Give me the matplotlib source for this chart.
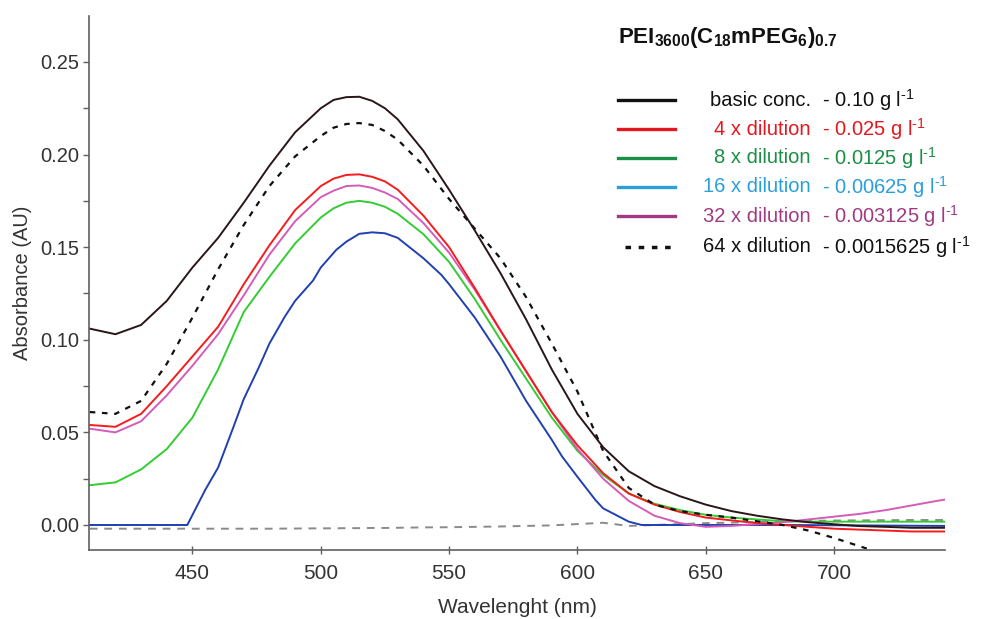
import numpy as np
import matplotlib
matplotlib.use('Agg')
import matplotlib.pyplot as plt
from matplotlib.ticker import MultipleLocator
from matplotlib.lines import Line2D

plt.rcParams['font.family'] = ['Liberation Sans', 'DejaVu Sans']
plt.rcParams['mathtext.fontset'] = 'custom'
plt.rcParams['mathtext.rm'] = 'Liberation Sans'
plt.rcParams['mathtext.bf'] = 'Liberation Sans:bold'

# comprimento de onda comum (nm)
wavelength = [410, 420, 430, 440, 450, 460, 470, 480, 490, 500, 505, 510, 515, 520, 525,
              530, 540, 550, 560, 570, 580, 590, 600, 610, 620, 630, 640, 650, 660, 670,
              680, 690, 700, 710, 720, 730, 740, 743]

basic = [0.106, 0.103, 0.108, 0.121, 0.139, 0.155, 0.174, 0.194, 0.212, 0.225, 0.2295,
         0.231, 0.2312, 0.229, 0.225, 0.219, 0.202, 0.181, 0.159, 0.136, 0.111, 0.084,
         0.060, 0.042, 0.029, 0.021, 0.0155, 0.011, 0.0075, 0.005, 0.003, 0.0015, 0.0004,
         -0.0006, -0.001, -0.0015, -0.0015, -0.0015]

dil64 = [0.061, 0.060, 0.067, 0.087, 0.112, 0.138, 0.162, 0.183, 0.199, 0.210, 0.2145,
         0.2165, 0.217, 0.216, 0.2127, 0.208, 0.194, 0.176, 0.160, 0.144, 0.123, 0.098,
         0.072, 0.040, 0.020, 0.011, 0.0075, 0.0055, 0.004, 0.002, 0.0, -0.003, -0.007,
         -0.0115, -0.016, np.nan, np.nan, np.nan]

dil4 = [0.054, 0.053, 0.060, 0.075, 0.091, 0.107, 0.130, 0.151, 0.170, 0.183, 0.187,
        0.189, 0.1893, 0.188, 0.1855, 0.181, 0.167, 0.150, 0.128, 0.105, 0.083, 0.061,
        0.043, 0.028, 0.017, 0.011, 0.007, 0.004, 0.0025, 0.001, 0.0, -0.001, -0.002,
        -0.0025, -0.003, -0.0035, -0.0035, -0.0035]

dil32 = [0.052, 0.050, 0.056, 0.070, 0.086, 0.103, 0.124, 0.146, 0.164, 0.177, 0.1805,
         0.183, 0.1833, 0.182, 0.1795, 0.176, 0.163, 0.147, 0.127, 0.105, 0.083, 0.061,
         0.041, 0.025, 0.013, 0.005, 0.001, -0.001, -0.0005, 0.0005, 0.0015, 0.003,
         0.0045, 0.006, 0.008, 0.0105, 0.013, 0.0137]

dil8 = [0.0215, 0.023, 0.030, 0.041, 0.058, 0.084, 0.115, 0.134, 0.152, 0.166, 0.171,
        0.174, 0.175, 0.174, 0.1718, 0.168, 0.157, 0.142, 0.122, 0.100, 0.079, 0.058,
        0.040, 0.027, 0.017, 0.0115, 0.008, 0.0055, 0.004, 0.003, 0.002, 0.0018, 0.0018,
        0.0018, 0.0018, 0.0018, 0.0018, 0.0018]

blank = [-0.002, -0.002, -0.002, -0.002, -0.002, -0.002, -0.002, -0.002, -0.0019,
         -0.0018, -0.0018, -0.0017, -0.0017, -0.0016, -0.0016, -0.0015, -0.0013,
         -0.0012, -0.001, -0.0008, -0.0005, -0.0002, 0.0005, 0.0012, -0.0005, 0.0,
         0.0005, 0.001, 0.0013, 0.0016, 0.002, 0.0022, 0.0024, 0.0025, 0.0026, 0.0027,
         0.0027, 0.0027]

# 16x tem o joelho em 448 nm
wl_16x = [410, 448, 455, 460, 466, 470, 476, 480, 486, 490, 497, 500, 506, 510, 515,
          520, 525, 530, 540, 547, 550, 560, 570, 580, 590, 594, 600, 607, 610, 620,
          625, 640, 680, 720, 743]
dil16 = [0.0, 0.0, 0.019, 0.031, 0.053, 0.068, 0.0855, 0.098, 0.1125, 0.121, 0.132,
         0.139, 0.1485, 0.153, 0.1572, 0.158, 0.1575, 0.155, 0.144, 0.135, 0.130, 0.112,
         0.091, 0.067, 0.046, 0.037, 0.026, 0.0135, 0.009, 0.0018, 0.0, 0.0, 0.0,
         -0.0003, -0.0005]

legend_labels = ['basic conc.', '4 x dilution', '8 x dilution', '16 x dilution',
                 '32 x dilution', '64 x dilution']
legend_values = ['0.10', '0.025', '0.0125', '0.00625', '0.003125', '0.0015625']
legend_colors = ['#111111', '#e3171f', '#1b8f45', '#2a9fd8', '#a03a82', '#111111']

fig = plt.figure(figsize=(9.84, 6.19), dpi=100)
ax = fig.add_axes([89 / 984, 1 - 550 / 619, (945 - 89) / 984, (550 - 16) / 619])

ax.plot(wavelength, blank, color='#8a8a8a', lw=1.4, dashes=(4, 3.5))
ax.plot(wl_16x, dil16, color='#2040b0', lw=1.4)
ax.plot(wavelength, dil8, color='#33cc33', lw=1.4)
ax.plot(wavelength, dil32, color='#d45cb8', lw=1.4)
ax.plot(wavelength, dil4, color='#f51c1c', lw=1.4)
ax.plot(wavelength, dil64, color='#111111', lw=1.6, dashes=(2.5, 3))
ax.plot(wavelength, basic, color='#2a1616', lw=1.4)

ax.set_xlim(409.7, 743.2)
ax.set_ylim(-0.0135, 0.2748)
ax.xaxis.set_major_locator(MultipleLocator(50))
ax.yaxis.set_major_locator(MultipleLocator(0.05))
ax.yaxis.set_minor_locator(MultipleLocator(0.025))
ax.yaxis.set_major_formatter(matplotlib.ticker.FormatStrFormatter('%.2f'))

for s in ['top', 'right']:
    ax.spines[s].set_visible(False)
for s in ['left', 'bottom']:
    ax.spines[s].set_color('#606060')
    ax.spines[s].set_linewidth(1.2)

ax.tick_params(axis='x', direction='inout', length=6, width=1, color='#606060',
               labelsize=15, labelcolor='#333333', pad=7)
ax.tick_params(axis='y', which='both', direction='out', length=4, width=1,
               color='#606060', labelsize=14.5, labelcolor='#333333', pad=3)

ax.set_xlabel('Wavelenght (nm)', fontsize=15, color='#333333', labelpad=11)
ax.set_ylabel('Absorbance (AU)', fontsize=14.5, color='#333333', labelpad=6)

# bloco da legenda (coordenadas em pixels da figura)
def fx(px):
    return px / 984

def fy(py):
    return 1 - py / 619

fig.text(fx(618), fy(38), r'PEI$_{\mathbf{3600}}$(C$_{\mathbf{18}}$mPEG$_{\mathbf{6}}$)$_{\mathbf{0.7}}$',
         fontsize=16, fontweight='bold', color='#111111', va='center', ha='left')

row_y = [100, 129.3, 157.7, 186.7, 216, 246.7]
for i in range(len(legend_labels)):
    c = legend_colors[i]
    if i == 5:
        fig.add_artist(Line2D([fx(625), fx(675)], [fy(row_y[i])] * 2, color=c,
                              lw=2.5, dashes=(1.6, 2.2)))
    else:
        fig.add_artist(Line2D([fx(618), fx(675)], [fy(row_y[i])] * 2, color=c, lw=2.4))
    fig.text(fx(811), fy(row_y[i]), legend_labels[i], fontsize=14.5, color=c,
             ha='right', va='center')
    fig.text(fx(822), fy(row_y[i]), '- ' + legend_values[i] + r' g l$^{\text{-1}}$',
             fontsize=14.5, color=c, ha='left', va='center')

fig.savefig('out.png', dpi=100)
